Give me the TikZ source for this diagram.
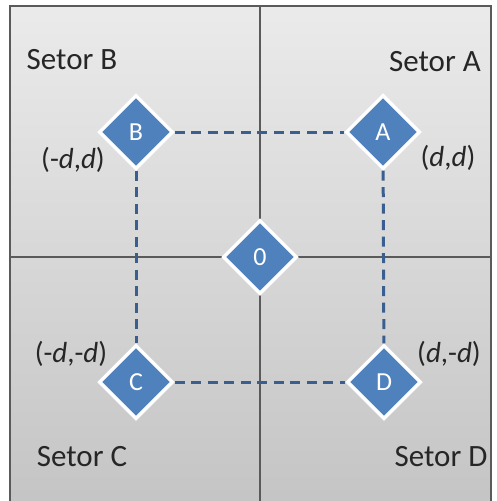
\documentclass[tikz,border=0pt]{standalone}
\usepackage{fontspec}
\setmainfont{Carlito}
\usetikzlibrary{shapes.geometric}
\definecolor{nodeblue}{HTML}{4F81BD}
\definecolor{dashblue}{HTML}{3B5E91}
\definecolor{frame}{HTML}{5A5A5A}
\tikzset{
  pt/.style={diamond, minimum width=74pt, minimum height=74pt, inner sep=0pt, fill=nodeblue, draw=white, line width=3.5pt, text=white, font=\fontsize{26}{28}\selectfont},
  sector/.style={font=\fontsize{31}{33}\selectfont, text=black!85},
  coord/.style={font=\fontsize{29}{31}\selectfont, text=black!85},
  link/.style={dashblue, line width=3pt, dash pattern=on 10pt off 6.5pt}
}
\begin{document}
\begin{tikzpicture}[x=1pt,y=-1pt]
\useasboundingbox (0,0) rectangle (497,501);
\shade[top color=black!8, bottom color=black!23] (10,6) rectangle (491,505);
\draw[frame, line width=1.5pt] (10,505) -- (10,6) -- (491,6) -- (491,505);
\draw[frame, line width=1.2pt] (260,6) -- (260,505);
\draw[frame, line width=1.2pt] (10,257) -- (491,257);
\node[pt] (B) at (136,132) {B};
\node[pt] (A) at (383,132) {A};
\node[pt] (C) at (136,382) {C};
\node[pt] (D) at (384,382) {D};
\draw[link] (B) -- (A);
\draw[link] (B) -- (C);
\draw[link] (A) -- (D);
\draw[link] (C) -- (D);
\node[pt] (O) at (260,257) {0};
\node[sector] (sb) at (72,60) {Setor B};
\node[sector] (sa) at (435,62) {Setor A};
\node[sector] (sc) at (82,457) {Setor C};
\node[sector] (sd) at (441,457) {Setor D};
\node[coord] (cb) at (73,160) {(-\textit{d},\textit{d})};
\node[coord] (ca) at (448,158) {(\textit{d},\textit{d})};
\node[coord] (cc) at (71,354) {(-\textit{d},-\textit{d})};
\node[coord] (cd) at (449,354) {(\textit{d},-\textit{d})};
\end{tikzpicture}
\end{document}
